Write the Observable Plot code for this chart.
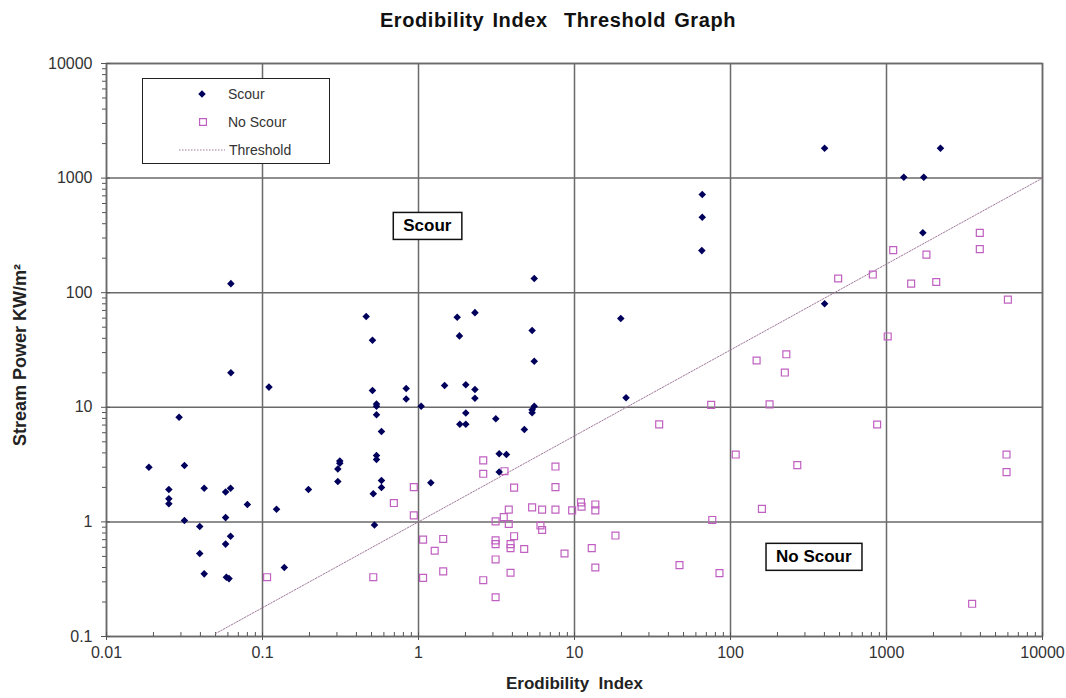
<!DOCTYPE html>
<html>
<head>
<meta charset="utf-8">
<script src="https://cdn.jsdelivr.net/npm/d3@7"></script>
<script src="https://cdn.jsdelivr.net/npm/@observablehq/plot@0.6"></script>
<style>
  body { margin: 0; background: #fff; font-family: "Liberation Sans", Arial, sans-serif; }
  #wrap { position: relative; width: 1066px; height: 698px; overflow: hidden; }
  #title { height: 40px; line-height: 40px; text-align: center; font-weight: bold; font-size: 20px; letter-spacing: 0.6px; word-spacing: 2px; color: #111; padding-left: 50px; box-sizing: border-box; white-space: pre; }
  #legend { position: absolute; left: 142px; top: 78px; width: 186px; height: 84px; border: 1.5px solid #222; background: #fff; }
  #legend text { font-family: "Liberation Sans", Arial, sans-serif; font-size: 14px; fill: #333; }
</style>
</head>
<body>
<div id="wrap">
  <div id="title"></div>
  <div id="chart"></div>
  <div id="legend"></div>
</div>
<script>
// ---- data ----
const scourX = [0.0187,0.0316,0.0251,0.0251,0.0251,0.0423,0.058,0.0624,0.080,0.123,0.197,0.304,0.313,0.313,0.304,0.538,0.538,0.579,0.579,0.513,1.2,0.0316,0.0396,0.058,0.522,0.0624,0.058,0.0396,0.0423,0.0587,0.061,0.138,0.0627,0.0627,0.11,0.0292,0.462,0.507,0.507,0.538,0.538,0.538,0.579,0.834,0.834,1.04,65.5,5.52,1.77,2.30,1.83,5.35,5.52,19.8,21.4,1.47,2.01,2.30,2.30,5.52,5.35,5.35,2.01,1.84,2.01,3.13,4.77,3.29,3.66,3.29,401,2218,1291,1734,1710,65.9,65.9,401];
const scourY = [3.0,3.1,1.92,1.59,1.44,1.97,1.82,1.97,1.42,1.29,1.92,2.9,3.4,3.25,2.25,3.8,3.5,2.3,2.0,1.76,2.2,1.03,0.91,1.09,0.94,0.75,0.64,0.53,0.352,0.329,0.32,0.40,120,20,15,8.2,62,38.5,14,10.7,10.2,8.6,6.15,14.6,11.8,10.2,233,133,61,67,42,46.8,25.2,59.6,12.1,15.5,15.7,14.3,12.0,10.2,9.5,8.95,8.9,7.1,7.1,7.95,6.4,3.93,3.87,2.72,1825,1825,1018,1018,333,719,456,80];
const noScourX = [0.107,0.513,0.695,0.933,0.933,1.07,1.07,2.60,2.60,3.56,7.55,7.55,4.1,3.79,5.35,6.2,7.55,9.66,11.0,11.1,13.6,13.6,3.12,3.52,3.79,6.05,6.2,1.44,1.27,3.12,3.12,4.1,3.89,3.89,4.76,3.12,8.63,12.9,18.3,13.6,3.89,2.6,3.12,1.44,47.1,85,76.4,108,34.9,75.2,1104,1803,3963,3963,490,817,1439,2084,5999,1018,147,228,223,178,871,268,159,3540,5880,5880];
const noScourY = [0.329,0.329,1.46,2.01,1.14,0.70,0.325,3.44,2.63,2.77,3.04,2.01,1.99,1.28,1.34,1.28,1.28,1.26,1.48,1.36,1.42,1.26,1.01,1.10,0.96,0.93,0.85,0.71,0.56,0.69,0.64,0.75,0.64,0.59,0.58,0.47,0.53,0.59,0.76,0.40,0.36,0.31,0.22,0.37,0.42,0.357,1.04,3.87,7.1,10.5,235,215,240,333,133,144,120,124,87,41.5,25.6,29,20.1,10.6,7.08,3.13,1.30,0.193,3.87,2.72];
const thresholdX = [0.05, 10000];
const thresholdY = [0.106, 1000];
const xTicks = [0.01, 0.1, 1, 10, 100, 1000, 10000];
const xTickLabels = ["0.01", "0.1", "1", "10", "100", "1000", "10000"];
const yTicks = [0.1, 1, 10, 100, 1000, 10000];
const yTickLabels = ["0.1", "1", "10", "100", "1000", "10000"];
const annotationText = ["Scour", "No Scour"];
const annotationX = [1.14, 342];
const annotationY = [382, 0.495];
const titleText = "Erodibility Index  Threshold Graph";
const xLabel = "Erodibility  Index";
const yLabel = "Stream Power KW/m²";
const legendLabels = ["Scour", "No Scour", "Threshold"];

document.getElementById("title").textContent = titleText;

// ---- tables for the library ----
const scour = scourX.map((x, i) => ({x, y: scourY[i]}));
const noScour = noScourX.map((x, i) => ({x, y: noScourY[i]}));
const threshold = thresholdX.map((x, i) => ({x, y: thresholdY[i]}));
const annotations = annotationText.map((t, i) => ({t, x: annotationX[i], y: annotationY[i]}));
const minorX = d3.scaleLog().domain([0.01, 10000]).ticks().filter(d => !xTicks.includes(d));
const minorY = d3.scaleLog().domain([0.1, 10000]).ticks().filter(d => !yTicks.includes(d));

const gridStyle = {stroke: "#6a6a6a", strokeOpacity: 1, strokeWidth: 1.5};
const tickStyle = {stroke: "#555", strokeWidth: 1};

const chart = Plot.plot({
  width: 1066,
  height: 658,
  marginTop: 23,
  marginBottom: 62,
  marginLeft: 106,
  marginRight: 24,
  style: {fontFamily: '"Liberation Sans", Arial, sans-serif', fontSize: "16px", color: "#333", background: "#fff"},
  x: {type: "log", domain: [0.01, 10000]},
  y: {type: "log", domain: [0.1, 10000]},
  marks: [
    Plot.gridX(xTicks, gridStyle),
    Plot.gridY(yTicks, gridStyle),
    Plot.frame({stroke: "#6a6a6a", strokeWidth: 1.5}),
    Plot.axisX(minorX, {...tickStyle, tickSize: -4, text: null, label: null}),
    Plot.axisX(xTicks, {...tickStyle, tickSize: -4, text: null, label: null}),
    Plot.axisX(xTicks, {...tickStyle, tickSize: 4, tickPadding: 6, fontSize: 16, tickFormat: d => xTickLabels[xTicks.indexOf(d)], label: null, fill: "#333"}),
    Plot.axisY(minorY, {...tickStyle, tickSize: 4, text: null, label: null}),
    Plot.axisY(yTicks, {...tickStyle, tickSize: -4, text: null, label: null}),
    Plot.axisY(yTicks, {...tickStyle, tickSize: 5, tickPadding: 9, fontSize: 16, tickFormat: d => yTickLabels[yTicks.indexOf(d)], label: null, fill: "#333"}),
    Plot.line(threshold, {x: "x", y: "y", stroke: "#a0789a", strokeWidth: 1, strokeDasharray: "1.5,1.5"}),
    Plot.dot(noScour, {x: "x", y: "y", symbol: "square2", r: 4.4, fill: "none", stroke: "#c060c0", strokeWidth: 1.2}),
    Plot.dot(scour, {x: "x", y: "y", symbol: "diamond2", r: 3.4, fill: "#00005c", stroke: "none"}),
    Plot.text(annotations, {x: "x", y: "y", text: "t", fontWeight: "bold", fontSize: 17, fill: "#000"}),
    Plot.text([xLabel], {text: d => d, frameAnchor: "bottom", dy: 52, fontWeight: "bold", fontSize: 17, fill: "#222"}),
    Plot.text([yLabel], {text: d => d, frameAnchor: "left", textAnchor: "middle", rotate: -90, dx: -86, dy: 5, fontWeight: "bold", fontSize: 18, fill: "#222"})
  ]
});
document.getElementById("chart").appendChild(chart);

// boxes behind the annotation labels
d3.select(chart).selectAll("text")
  .filter(function() { return annotationText.includes(this.textContent) && this.closest('g[aria-label$="axis tick label"]') === null; })
  .each(function() {
    const b = this.getBBox();
    const padX = 10, padY = 4;
    const r = document.createElementNS("http://www.w3.org/2000/svg", "rect");
    if (this.getAttribute("transform")) r.setAttribute("transform", this.getAttribute("transform"));
    r.setAttribute("x", b.x - padX);
    r.setAttribute("y", b.y - padY);
    r.setAttribute("width", b.width + 2 * padX);
    r.setAttribute("height", b.height + 2 * padY);
    r.setAttribute("fill", "#fff");
    r.setAttribute("stroke", "#111");
    r.setAttribute("stroke-width", 1.5);
    this.parentNode.insertBefore(r, this);
  });
// keep spaces in the axis title
d3.select(chart).selectAll("text").filter(function() { return this.textContent === xLabel; }).attr("xml:space", "preserve").style("white-space", "pre");

// legend (inside plot area, top-left)
const lg = d3.select("#legend").append("svg").attr("width", 186).attr("height", 84);
lg.append("path").attr("d", d3.symbol(d3.symbolDiamond2, 36)()).attr("transform", "translate(59,15)").attr("fill", "#00005c");
lg.append("text").attr("x", 85).attr("y", 20).text(legendLabels[0]);
lg.append("path").attr("d", d3.symbol(d3.symbolSquare2, 60)()).attr("transform", "translate(60,43)").attr("fill", "none").attr("stroke", "#c060c0").attr("stroke-width", 1.2);
lg.append("text").attr("x", 85).attr("y", 48).text(legendLabels[1]);
lg.append("line").attr("x1", 36).attr("x2", 82).attr("y1", 71).attr("y2", 71).attr("stroke", "#a0789a").attr("stroke-dasharray", "1.5,1.5");
lg.append("text").attr("x", 86).attr("y", 76).text(legendLabels[2]);
</script>
</body>
</html>
